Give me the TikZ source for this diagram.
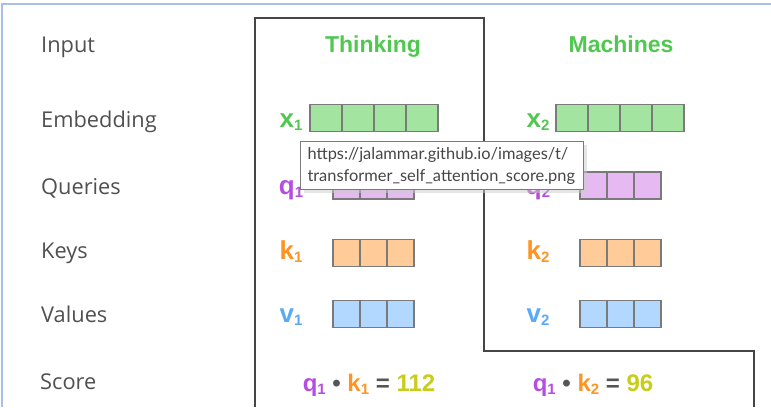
\documentclass[tikz,border=0pt]{standalone}
\usepackage{fontspec}
\setmainfont{Open Sans}
\newfontfamily\headfont{Liberation Sans}
\newfontfamily\tipfont{Lato}
\usepackage{xcolor}
\usetikzlibrary{positioning}
\usetikzlibrary{shadows}
\definecolor{wordgreen}{HTML}{50C850}
\definecolor{embfill}{HTML}{A3E4A0}
\definecolor{qtext}{HTML}{B54EE0}
\definecolor{qfill}{HTML}{E7B9F2}
\definecolor{ktext}{HTML}{FF9422}
\definecolor{kfill}{HTML}{FFCC99}
\definecolor{vtext}{HTML}{5AAAF7}
\definecolor{vfill}{HTML}{B3D8FF}
\definecolor{numtext}{HTML}{C8CC1A}
\definecolor{labelgray}{HTML}{505050}
\definecolor{tipgray}{HTML}{464646}
\definecolor{opgray}{HTML}{555555}
\definecolor{boxgray}{HTML}{7A7A7A}
\definecolor{framegray}{HTML}{454545}
\definecolor{pageblue}{HTML}{A9C0E6}
\newcommand{\vname}[2]{#1\raisebox{-0.15em}{\fontsize{15}{15}\selectfont #2}}
\newcommand{\sname}[2]{#1\raisebox{-0.15em}{\fontsize{15}{15}\selectfont #2}}

\begin{document}
\begin{tikzpicture}[x=1pt,y=-1pt]

  \useasboundingbox (0,0) rectangle (771,407);
  \tikzstyle{rowlabel}=[anchor=base west,inner sep=0pt,text=labelgray,font=\fontsize{21.8}{24}\selectfont]
  \tikzstyle{word}=[anchor=base,text=wordgreen,font=\headfont\bfseries\fontsize{23}{26}\selectfont]
  \tikzstyle{vlabel}=[anchor=base,inner sep=0pt,font=\headfont\bfseries\fontsize{26}{28}\selectfont]
  \tikzstyle{cell}=[draw=boxgray,line width=1.2pt,minimum height=27pt,inner sep=0pt]
  \tikzstyle{wcell}=[cell,minimum width=32pt,fill=embfill]
  \tikzstyle{ncell}=[cell,minimum width=27pt]
  \tikzstyle{score}=[anchor=base,font=\headfont\bfseries\fontsize{24}{26}\selectfont]

  % page edge
  \draw[pageblue,line width=1.5pt] (2,407) -- (2,4) -- (771,4);

  % row labels
  \node[rowlabel] (input) at (41,52) {Input};
  \node[rowlabel] (embedding) at (41,127) {Embedding};
  \node[rowlabel] (queries) at (41,194) {Queries};
  \node[rowlabel] (keys) at (41,258) {Keys};
  \node[rowlabel] (values) at (41,322) {Values};
  \node[rowlabel] (score) at (40,389) {Score};

  % outline round the first word
  \draw[framegray,line width=1.2pt] (255,407) -- (255,18) -- (484,18) -- (484,351) -- (754,351) -- (754,407);

  \node[word] (thinking) at (373,52) {Thinking};
  \node[word] (machines) at (621,52) {Machines};

  % vectors
  \foreach \i in {0,...,3} {
    \node[wcell] (xa\i) at (326+32*\i,118) {};
    \node[wcell] (xb\i) at (572+32*\i,118) {};
  }
  \foreach \i in {0,...,2} {
    \node[ncell,fill=qfill] (qa\i) at (346.5+27*\i,185.5) {};
    \node[ncell,fill=qfill] (qb\i) at (593.5+27*\i,185.5) {};
    \node[ncell,fill=kfill] (ka\i) at (346.5+27*\i,253) {};
    \node[ncell,fill=kfill] (kb\i) at (593.5+27*\i,253) {};
    \node[ncell,fill=vfill] (va\i) at (346.5+27*\i,314) {};
    \node[ncell,fill=vfill] (vb\i) at (593.5+27*\i,314) {};
  }

  \node[vlabel,text=wordgreen] (x1) at (291,127) {\vname{x}{1}};
  \node[vlabel,text=wordgreen] (x2) at (538,127) {\vname{x}{2}};
  \node[vlabel,text=qtext] (q1) at (291,194) {\vname{q}{1}};
  \node[vlabel,text=qtext] (q2) at (538,194) {\vname{q}{2}};
  \node[vlabel,text=ktext] (k1) at (291,259) {\vname{k}{1}};
  \node[vlabel,text=ktext] (k2) at (538,259) {\vname{k}{2}};
  \node[vlabel,text=vtext] (v1) at (291,322) {\vname{v}{1}};
  \node[vlabel,text=vtext] (v2) at (538,322) {\vname{v}{2}};

  % scores
  \node[score] (score1) at (369,391) {\textcolor{qtext}{\sname{q}{1}} \textcolor{opgray}{•} \textcolor{ktext}{\sname{k}{1}} \textcolor{opgray}{=} \textcolor{numtext}{112}};
  \node[score] (score2) at (593,391) {\textcolor{qtext}{\sname{q}{1}} \textcolor{opgray}{•} \textcolor{ktext}{\sname{k}{2}} \textcolor{opgray}{=} \textcolor{numtext}{96}};

  % tooltip
  \node[anchor=north west,draw=boxgray,fill=white,line width=1pt,minimum width=283pt,minimum height=48pt,
    inner xsep=7pt,text width=269pt,align=left,text=tipgray,font=\tipfont\fontsize{16.4}{22}\selectfont,
    drop shadow={shadow xshift=3pt,shadow yshift=-3pt,fill=black!20}] (tip) at (300,141)
    {https://jalammar.github.io/images/t/\\transformer\_self\_attention\_score.png};

\end{tikzpicture}
\end{document}
